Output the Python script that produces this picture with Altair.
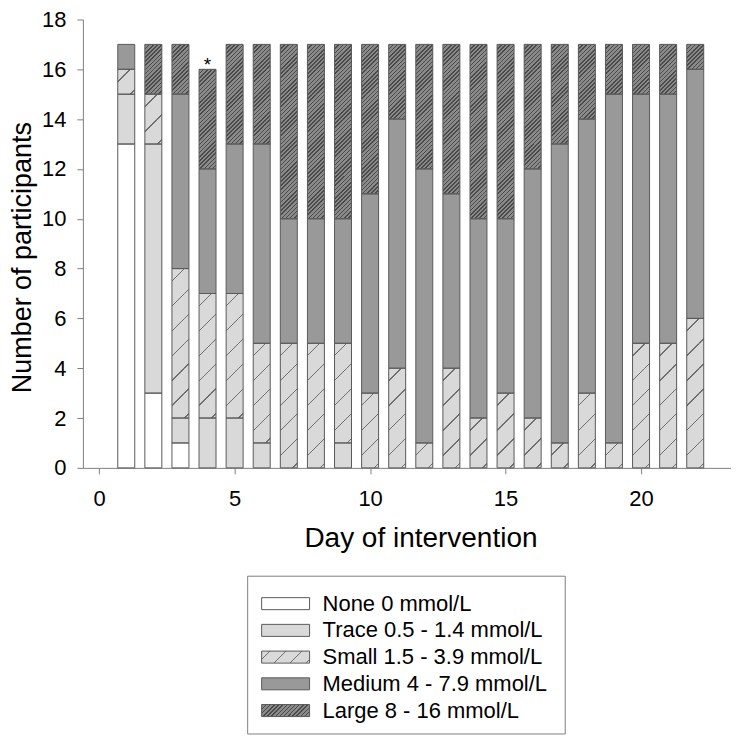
import math
import altair as alt
import pandas as pd

# ---------------- data ----------------
days = list(range(1, 23))
none_vals = [13, 3, 1, 0, 0, 0, 0, 0, 0, 0, 0, 0, 0, 0, 0, 0, 0, 0, 0, 0, 0, 0]
trace_vals = [2, 10, 1, 2, 2, 1, 0, 0, 1, 0, 0, 0, 0, 0, 0, 0, 0, 0, 0, 0, 0, 0]
small_vals = [1, 2, 6, 5, 5, 4, 5, 5, 4, 3, 4, 1, 4, 2, 3, 2, 1, 3, 1, 5, 5, 6]
medium_vals = [1, 0, 7, 5, 6, 8, 5, 5, 5, 8, 10, 11, 7, 8, 7, 10, 12, 11, 14, 10, 10, 10]
large_vals = [0, 2, 2, 4, 4, 4, 7, 7, 7, 6, 3, 5, 6, 7, 7, 5, 4, 3, 2, 2, 2, 1]

cat_keys = ["None", "Trace", "Small", "Medium", "Large"]
cat_labels = ["None 0 mmol/L", "Trace 0.5 - 1.4 mmol/L", "Small 1.5 - 3.9 mmol/L",
              "Medium 4 - 7.9 mmol/L", "Large 8 - 16 mmol/L"]
cat_colors = ["#ffffff", "#d9d9d9", "#d9d9d9", "#999999", "#8a8a8a"]

note_day = [4]
note_text = ["*"]
x_ticks = [0, 5, 10, 15, 20]
y_ticks = list(range(0, 19, 2))

# ---------------- tables ----------------
series = [none_vals, trace_vals, small_vals, medium_vals, large_vals]
seg_rows = []
totals = []
for i, d in enumerate(days):
    base = 0
    for k, arr in zip(cat_keys, series):
        v = arr[i]
        if v > 0:
            seg_rows.append({"day": d, "cat": k, "y0": base, "y1": base + v})
        base += v
    totals.append(base)
seg_df = pd.DataFrame(seg_rows)

# unit pieces for hatching (keeps hatch spacing uniform)
piece_rows = []
for r in seg_rows:
    if r["cat"] in ("Small", "Large"):
        for j in range(r["y0"], r["y1"]):
            piece_rows.append({"day": r["day"], "cat": r["cat"], "y0": j, "y1": j + 1})
piece_df = pd.DataFrame(piece_rows)

note_df = pd.DataFrame({"day": note_day, "y0": [totals[days.index(d)] for d in note_day],
                        "t": note_text})
leg_df = pd.DataFrame({"cat": cat_keys, "label": cat_labels})

# ---------------- hatch gradients ----------------
PLOT_W, PLOT_H = 649, 449
BAR_W = 17
UNIT_H = PLOT_H / 18.0


def hatch(w, h, period_px, line_px, bg, fg, phase_px=0.0):
    a = w / h
    s = (a + 1) / (a * a + 1)
    span = (w + h) / math.sqrt(2)
    p = period_px / span
    lw = line_px / span
    t = phase_px / span
    stops = [(0.0, bg)]
    while t - lw / 2 < 1:
        lo, hi = max(0.0, t - lw / 2), min(1.0, t + lw / 2)
        if hi > 0:
            stops += [(lo, bg), (lo, fg), (hi, fg), (hi, bg)]
        t += p
    stops.append((1.0, bg))
    return {"gradient": "linear", "x1": 0, "y1": 0, "x2": round(a * s, 4), "y2": round(s, 4),
            "stops": [{"offset": round(o, 4), "color": c} for o, c in stops]}


step_bar = UNIT_H / math.sqrt(2)  # perpendicular distance for one unit vertical shift
small_grad = hatch(BAR_W, UNIT_H, step_bar, 1.0, "#d9d9d9", "#6e6e6e", step_bar * 0.5)
large_grad = hatch(BAR_W, UNIT_H, step_bar / 6, 1.1, "#8a8a8a", "#4a4a4a", 0.5)

SW_W, SW_H = 48, 12
small_sw = hatch(SW_W, SW_H, 16 / math.sqrt(2), 0.9, "#d9d9d9", "#6e6e6e", 6)
large_sw = hatch(SW_W, SW_H, step_bar / 6, 1.0, "#8a8a8a", "#4a4a4a", 0.5)

# ---------------- main chart ----------------
fill_scale = alt.Scale(domain=cat_keys, range=cat_colors)
X = alt.X("day:Q", scale=alt.Scale(domain=[-0.6, 23.32], nice=False, zero=False, padding=0),
          axis=alt.Axis(values=x_ticks, title="Day of intervention", labelPadding=15,
                        titlePadding=15, format="d", titleX=338, titleFontSize=28))
Y = alt.Y("y0:Q", scale=alt.Scale(domain=[0, 18], nice=False, padding=0),
          axis=alt.Axis(values=y_ticks, title="Number of participants", labelPadding=11,
                        titlePadding=5, format="d", titleY=238, titleFontSize=27))

solid = alt.Chart(seg_df).mark_bar(size=BAR_W).encode(
    x=X, y=Y, y2="y1:Q",
    fill=alt.Color("cat:N", scale=fill_scale, legend=None))
small_h = alt.Chart(piece_df).transform_filter(alt.datum.cat == "Small").mark_bar(
    size=BAR_W, fill=small_grad).encode(x=X, y=Y, y2="y1:Q")
large_h = alt.Chart(piece_df).transform_filter(alt.datum.cat == "Large").mark_bar(
    size=BAR_W, fill=large_grad).encode(x=X, y=Y, y2="y1:Q")
outline = alt.Chart(seg_df).mark_bar(size=BAR_W, fillOpacity=0, stroke="#5a5a5a",
                                     strokeWidth=1).encode(x=X, y=Y, y2="y1:Q")
note = alt.Chart(note_df).mark_text(fontSize=19, baseline="middle", dy=-4).encode(
    x=X, y=Y, text="t:N")

main = alt.layer(solid, small_h, large_h, outline, note).properties(width=PLOT_W, height=PLOT_H)

# ---------------- legend chart ----------------
y_leg = alt.Y("label:N", sort=cat_labels, axis=None,
              scale=alt.Scale(domain=cat_labels, range=[14.6, 148.4],
                              paddingInner=0.55, paddingOuter=0.275))
box = alt.Chart(pd.DataFrame({"k": [0]})).mark_rect(fill="white", stroke="#7f7f7f",
                                                   strokeWidth=1).encode(
    x=alt.value(165), x2=alt.value(483), y=alt.value(0.5), y2=alt.value(158.5))
sw_solid = alt.Chart(leg_df).mark_rect().encode(
    x=alt.value(179), x2=alt.value(227), y=y_leg,
    fill=alt.Color("cat:N", scale=fill_scale, legend=None))
sw_small = alt.Chart(leg_df).transform_filter(alt.datum.cat == "Small").mark_rect(
    fill=small_sw).encode(x=alt.value(179), x2=alt.value(227), y=y_leg)
sw_large = alt.Chart(leg_df).transform_filter(alt.datum.cat == "Large").mark_rect(
    fill=large_sw).encode(x=alt.value(179), x2=alt.value(227), y=y_leg)
sw_out = alt.Chart(leg_df).mark_rect(fillOpacity=0, stroke="#5a5a5a", strokeWidth=1).encode(
    x=alt.value(179), x2=alt.value(227), y=y_leg)
leg_text = alt.Chart(leg_df).mark_text(align="left", baseline="middle", fontSize=22).encode(
    x=alt.value(240), y=y_leg, text="label:N")

legend = alt.layer(box, sw_solid, sw_small, sw_large, sw_out, leg_text).properties(
    width=500, height=159)

chart = alt.vconcat(main, legend, spacing=23).properties(padding=0).configure(
    font="Liberation Sans"
).configure_view(strokeWidth=0).configure_axis(
    grid=False, domainColor="#808080", tickColor="#808080", labelColor="black",
    titleColor="black", labelFont="Liberation Sans", titleFont="Liberation Sans",
    labelFontSize=22, titleFontWeight="normal", tickSize=6
)

chart.save("out.html", embed_options={"renderer": "svg", "actions": False})
